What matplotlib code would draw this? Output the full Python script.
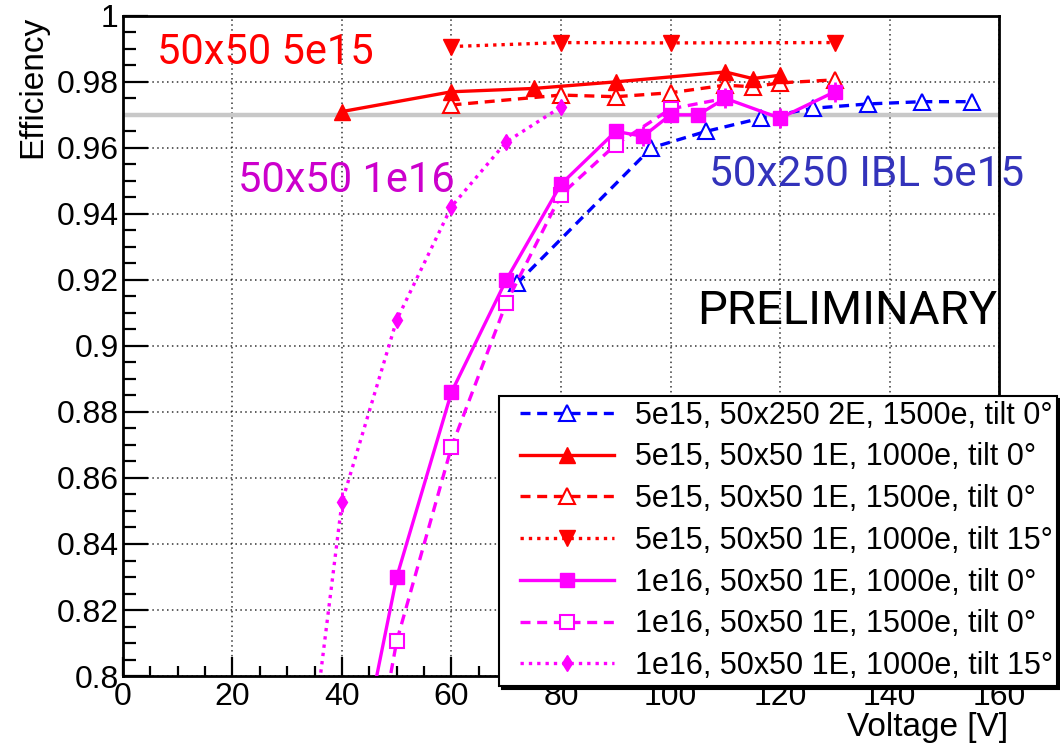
import matplotlib
matplotlib.use("Agg")
import matplotlib.pyplot as plt
from matplotlib.lines import Line2D
from matplotlib.legend_handler import HandlerLine2D
from matplotlib.ticker import MultipleLocator

plt.rcParams["font.family"] = ["Liberation Sans", "DejaVu Sans"]

# 5e15, 50x250 2E, 1500e, tilt 0
v_ibl = [72, 96.5, 106.5, 116.5, 126, 136, 146, 155]
eff_ibl = [0.919, 0.960, 0.965, 0.969, 0.972, 0.9733, 0.974, 0.974]

# 5e15, 50x50 1E, 1000e, tilt 0
v_5e15_1000 = [40, 60, 75, 90, 110, 115, 120]
eff_5e15_1000 = [0.971, 0.977, 0.978, 0.980, 0.983, 0.981, 0.982]

# 5e15, 50x50 1E, 1500e, tilt 0
v_5e15_1500 = [60, 80, 90, 100, 110, 115, 120, 130]
eff_5e15_1500 = [0.973, 0.976, 0.9755, 0.9767, 0.979, 0.9785, 0.9797, 0.9806]

# 5e15, 50x50 1E, 1000e, tilt 15
v_5e15_tilt = [60, 80, 100, 130]
eff_5e15_tilt = [0.9907, 0.9919, 0.9918, 0.9919]

# 1e16, 50x50 1E, 1000e, tilt 0
v_1e16_1000 = [40, 50, 60, 70, 80, 90, 95, 100, 105, 110, 120, 130]
eff_1e16_1000 = [0.748, 0.830, 0.886, 0.920, 0.949, 0.965, 0.9635, 0.970, 0.970, 0.975, 0.969, 0.977]
err_1e16_1000 = [0.002, 0.002, 0.002, 0.002, 0.002, 0.002, 0.003, 0.002, 0.002, 0.003, 0.003, 0.003]

# 1e16, 50x50 1E, 1500e, tilt 0
v_1e16_1500 = [40, 50, 60, 70, 80, 90, 100, 110]
eff_1e16_1500 = [0.720, 0.8106, 0.8694, 0.913, 0.9458, 0.961, 0.9718, 0.975]

# 1e16, 50x50 1E, 1000e, tilt 15
v_1e16_tilt = [35, 40, 50, 60, 70, 80]
eff_1e16_tilt = [0.786, 0.8527, 0.9079, 0.9422, 0.9618, 0.9724]
err_1e16_tilt = [0.002, 0.003, 0.002, 0.002, 0.002, 0.002]

labels = [
    "5e15, 50x250 2E, 1500e, tilt 0°",
    "5e15, 50x50 1E, 1000e, tilt 0°",
    "5e15, 50x50 1E, 1500e, tilt 0°",
    "5e15, 50x50 1E, 1000e, tilt 15°",
    "1e16, 50x50 1E, 1000e, tilt 0°",
    "1e16, 50x50 1E, 1500e, tilt 0°",
    "1e16, 50x50 1E, 1000e, tilt 15°",
]

RED = "#ff0000"
MAG = "#ff00ff"
BLUE = "#0000ff"

fig = plt.figure(figsize=(10.6, 7.54), dpi=100)
ax = fig.add_axes([0.116, 0.1034, 0.8265, 0.8756])

ax.set_xlim(0, 160)
ax.set_ylim(0.8, 1.0)

# reference line at 97 %
ax.axhline(0.97, color="#c8c8c8", lw=3.2, zorder=1)

ax.grid(True, which="major", color="black", ls=(0, (1, 2.2)), lw=1.1, alpha=0.8)
ax.set_axisbelow(True)

lines = []
ln, = ax.plot(v_ibl, eff_ibl, color=BLUE, ls=(0, (3, 2)), lw=2.4, marker="^",
              ms=11, mfc="white", mec=BLUE, mew=1.5, zorder=3)
lines.append(ln)
ln, = ax.plot(v_5e15_1000, eff_5e15_1000, color=RED, ls="-", lw=2.4, marker="^",
              ms=11, mfc=RED, mec=RED, zorder=4)
lines.append(ln)
ln, = ax.plot(v_5e15_1500, eff_5e15_1500, color=RED, ls=(0, (3, 2)), lw=2.4, marker="^",
              ms=11, mfc="white", mec=RED, mew=1.5, zorder=3)
lines.append(ln)
ln, = ax.plot(v_5e15_tilt, eff_5e15_tilt, color=RED, ls=(0, (1, 1.5)), lw=2.4, marker="v",
              ms=11, mfc=RED, mec=RED, zorder=3)
lines.append(ln)
eb = ax.errorbar(v_1e16_1000, eff_1e16_1000, yerr=err_1e16_1000, color=MAG, ls="-", lw=2.4,
                 marker="s", ms=10, mfc=MAG, mec=MAG, elinewidth=2, capsize=0, zorder=5)
lines.append(eb.lines[0])
ln, = ax.plot(v_1e16_1500, eff_1e16_1500, color=MAG, ls=(0, (3, 2)), lw=2.4, marker="s",
              ms=10, mfc="white", mec=MAG, mew=1.5, zorder=3)
lines.append(ln)
eb = ax.errorbar(v_1e16_tilt, eff_1e16_tilt, yerr=err_1e16_tilt, color=MAG, ls=(0, (1, 1.5)),
                 lw=2.4, marker="d", ms=8, mfc=MAG, mec=MAG, elinewidth=2, capsize=0, zorder=3)
lines.append(eb.lines[0])

# axes styling
ax.xaxis.set_major_locator(MultipleLocator(20))
ax.xaxis.set_minor_locator(MultipleLocator(5))
ax.yaxis.set_major_locator(MultipleLocator(0.02))
ax.yaxis.set_minor_locator(MultipleLocator(0.005))
ax.xaxis.set_major_formatter(plt.FuncFormatter(lambda v, p: f"{v:g}"))
ax.yaxis.set_major_formatter(plt.FuncFormatter(lambda v, p: f"{v:g}"))
ax.tick_params(axis="both", which="both", direction="in", top=False, right=False,
               labelsize=23, width=1.6, color="black")
ax.tick_params(axis="y", which="major", length=18, pad=3)
ax.tick_params(axis="y", which="minor", length=9)
ax.tick_params(axis="x", which="major", length=14, pad=4)
ax.tick_params(axis="x", which="minor", length=7)
for s in ax.spines.values():
    s.set_linewidth(2)

ax.set_xlabel("Voltage [V]", fontsize=24, labelpad=0)
ax.xaxis.set_label_coords(1.01, -0.055)
ax.xaxis.label.set_horizontalalignment("right")
ax.set_ylabel("Efficiency", fontsize=24, loc="top", labelpad=6)

# group annotations
tfont = ["Roboto", "DejaVu Sans"]
fig.text(157 / 1060, 1 - 52 / 754, "50x50 5e15", color=RED, fontsize=30,
         family=tfont, va="center", ha="left")
fig.text(238 / 1060, 1 - 180 / 754, "50x50 1e16", color="#cc00cc", fontsize=30,
         family=tfont, va="center", ha="left")
fig.text(709 / 1060, 1 - 174 / 754, "50x250 IBL 5e15", color="#3333bb", fontsize=30.5,
         family=tfont, va="center", ha="left")
fig.text(697 / 1060, 1 - 311 / 754, "PRELIMINARY", color="black", fontsize=34,
         family=tfont, va="center", ha="left")

leg = fig.legend(lines, labels, loc="upper left", bbox_to_anchor=(499 / 1060, 1 - 396 / 754),
                 borderaxespad=0, fontsize=22, handlelength=3.6, handletextpad=0.69,
                 borderpad=0.15, labelspacing=0.385, frameon=True, fancybox=False,
                 handler_map={Line2D: HandlerLine2D(xpad=0.55)},
                 shadow={"color": "black", "alpha": 1})
leg.get_frame().set_edgecolor("black")
leg.get_frame().set_linewidth(1.5)

fig.savefig("out.png", dpi=100)
